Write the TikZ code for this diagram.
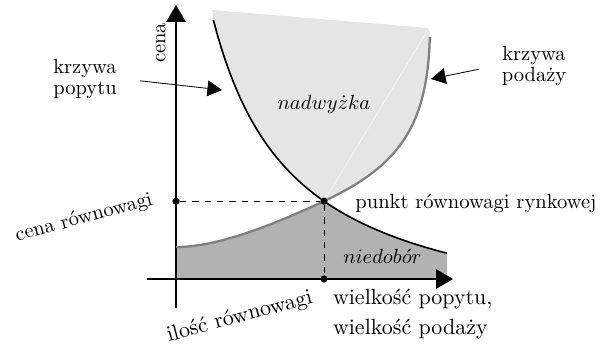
\documentclass[tikz,border=0pt]{standalone}
\usepackage{fontspec}
\usetikzlibrary{arrows.meta}
\colorlet{nadwyzkafill}{gray!20}
\colorlet{niedoborfill}{gray!60}
\begin{document}
\begin{tikzpicture}[
  axis/.style={thick,-{Triangle[length=2.9mm,width=3.3mm]}},
  pointer/.style={-{Triangle[length=2.5mm,width=2.7mm]}},
  supply/.style={line width=1.1pt,black!50},
  demand/.style={thick},
  guide/.style={dashed,thin},
  dot/.style={circle,fill,inner sep=0pt,minimum size=3.5pt},
  biglabel/.style={font=\fontsize{10.7pt}{14.6pt}\selectfont}
]
\useasboundingbox (-3.01,-1.112) rectangle (7.301,4.771);
\coordinate (O) at (0,0);
\coordinate (E) at (2.53,1.3316);
\coordinate (S0) at (0,0.547);
\coordinate (S1) at (4.34,4.14);
% obszary
\fill[nadwyzkafill] (E) -- plot[domain=2.53:0.638,samples=40] (\x,{7.495/(\x+0.755)-0.95})
  -- (0.616,4.60) -- (4.326,4.292) -- (S1) .. controls (4.30,2.6) and (3.798,1.924) .. (E) -- cycle;
\draw[white,very thin] (4.326,4.292) -- (E);
\fill[niedoborfill] (O) -- (S0) .. controls (0.7,0.547) and (1.624,0.909) .. (E)
  -- plot[domain=2.53:4.634,samples=40] (\x,{7.495/(\x+0.755)-0.95}) -- (4.634,0) -- cycle;
% osie
\draw[axis] (0,-0.496) -- (0,4.685);
\draw[axis] (-0.496,0) -- (4.737,0);
% krzywe
\draw[supply] (S0) .. controls (0.7,0.547) and (1.624,0.909) .. (E)
  .. controls (3.798,1.924) and (4.30,2.6) .. (S1);
\draw[demand] plot[domain=0.638:4.634,samples=60] (\x,{7.495/(\x+0.755)-0.95});
% rownowaga
\node[dot] (pc) at (0,1.3316) {};
\node[dot] (pq) at (2.53,0) {};
\node[dot] (pe) at (E) {};
\draw[guide] (pc) -- (pe) -- (pq);
% opisy
\node[rotate=90] (cena) at (-0.257,4.036) {cena};
\node[align=center] (popyt) at (-1.556,3.42) {krzywa\\[-2pt]popytu};
\node[align=center] (podaz) at (6.122,3.642) {krzywa\\[-2pt]podaży};
\coordinate (popytTip) at (0.787,3.232);
\coordinate (podazTip) at (4.36,3.42);
\draw[pointer,shorten <=2.8mm] (popyt.east) -- (popytTip);
\draw[pointer,shorten <=2.8mm] (podaz.west) -- (podazTip);
\node (nadwyzka) at (2.53,2.99) {$nadwy\dot{z}ka$};
\node (niedobor) at (3.53,0.393) {$niedob\acute{o}r$};
\node[anchor=west] (punkt) at (2.943,1.30) {punkt równowagi rynkowej};
\node[biglabel,anchor=west,align=left] (wielkosc) at (2.56,-0.60) {wielkość popytu,\\wielkość podaży};
\node[rotate=15] (cenaR) at (-1.573,1.043) {cena równowagi};
\node[biglabel,rotate=15,inner sep=0pt] (iloscR) at (1.09,-0.65) {ilość równowagi};
\end{tikzpicture}
\end{document}
